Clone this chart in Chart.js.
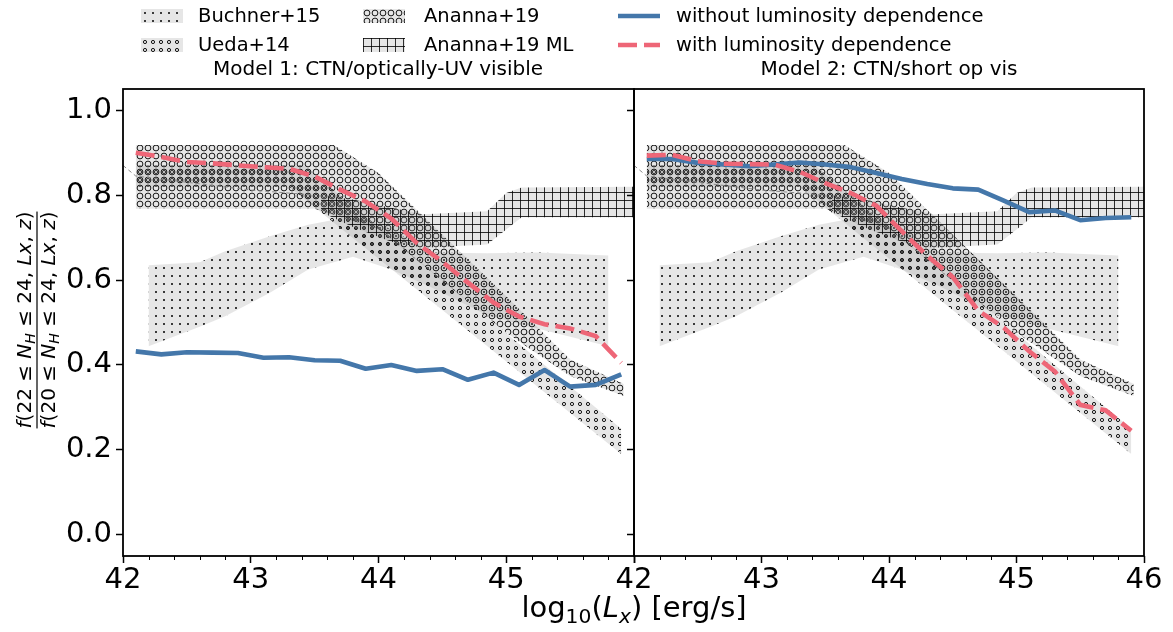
<!DOCTYPE html>
<html>
<head>
<meta charset="utf-8">
<script src="https://cdn.jsdelivr.net/npm/chart.js@4.4.1/dist/chart.umd.min.js"></script>
<style>
  html, body { margin: 0; padding: 0; background: #fff; }
  #wrap { position: relative; width: 1173px; height: 632px; overflow: hidden;
          font-family: "DejaVu Sans", sans-serif; color: #000; }
  canvas.plot { position: absolute; top: 0; }
  .lg { position: absolute; font-size: 19.5px; line-height: 24px; white-space: nowrap; }
  .sw { position: absolute; }
  .ttl { position: absolute; font-size: 20px; line-height: 24px; white-space: nowrap; transform: translateX(-50%); }
  #xlab { position: absolute; left: 634px; top: 590px; font-size: 29px; line-height: 34px;
          white-space: nowrap; transform: translateX(-50%); }
  #xlab sub { font-size: 70%; vertical-align: -0.28em; line-height: 0; }
</style>
</head>
<body>
<div id="wrap">
  <canvas id="left" class="plot" width="640" height="632" style="left:0"></canvas>
  <canvas id="right" class="plot" width="579" height="632" style="left:594px"></canvas>

  <canvas id="swBuchner" class="sw" width="42" height="14" style="left:141px;top:9px"></canvas>
  <div class="lg" style="left:198px;top:4px">Buchner+15</div>
  <canvas id="swUeda" class="sw" width="42" height="14" style="left:141px;top:38px"></canvas>
  <div class="lg" style="left:198px;top:33px">Ueda+14</div>
  <canvas id="swAnanna" class="sw" width="42" height="14" style="left:363px;top:9px"></canvas>
  <div class="lg" style="left:424px;top:4px">Ananna+19</div>
  <canvas id="swML" class="sw" width="42" height="14" style="left:363px;top:38px"></canvas>
  <div class="lg" style="left:424px;top:33px">Ananna+19 ML</div>
  <canvas id="swWithout" class="sw" width="42" height="14" style="left:618px;top:9px"></canvas>
  <div class="lg" style="left:676px;top:4px">without luminosity dependence</div>
  <canvas id="swWith" class="sw" width="42" height="14" style="left:618px;top:38px"></canvas>
  <div class="lg" style="left:676px;top:33px">with luminosity dependence</div>

  <div class="ttl" style="left:378px;top:56px">Model 1: CTN/optically-UV visible</div>
  <div class="ttl" style="left:889px;top:56px">Model 2: CTN/short op vis</div>
  <div id="xlab">log<sub>10</sub>(<i>L<sub>x</sub></i>) [erg/s]</div>
</div>

<script>
// axis ticks
const xTicks = [42, 43, 44, 45, 46];
const yTicks = [0.0, 0.2, 0.4, 0.6, 0.8, 1.0];

// luminosity bins of the model curves
const lumBins = [42.1, 42.3, 42.5, 42.7, 42.9, 43.1, 43.3, 43.5, 43.7, 43.9,
                 44.1, 44.3, 44.5, 44.7, 44.9, 45.1, 45.3, 45.5, 45.7, 45.9];

// Model 1
const m1Without = [0.432, 0.425, 0.430, 0.429, 0.428, 0.417, 0.418, 0.411, 0.410, 0.391,
                   0.400, 0.386, 0.390, 0.365, 0.382, 0.353, 0.388, 0.349, 0.353, 0.378];
const m1With    = [0.900, 0.890, 0.878, 0.875, 0.870, 0.866, 0.862, 0.844, 0.813, 0.785,
                   0.745, 0.687, 0.643, 0.594, 0.547, 0.514, 0.496, 0.486, 0.468, 0.405];
// Model 2
const m2Without = [0.885, 0.885, 0.876, 0.872, 0.868, 0.872, 0.877, 0.872, 0.866, 0.852,
                   0.838, 0.826, 0.816, 0.813, 0.787, 0.760, 0.764, 0.741, 0.746, 0.748];
const m2With    = [0.893, 0.895, 0.880, 0.874, 0.873, 0.872, 0.855, 0.828, 0.805, 0.775,
                   0.715, 0.657, 0.607, 0.528, 0.488, 0.432, 0.385, 0.306, 0.293, 0.245];

// literature bands (same in both panels)
const buchnerX  = [42.2, 42.6, 42.8, 43.15, 43.45, 43.8, 44.1, 44.4, 44.85, 45.25, 45.8];
const buchnerHi = [0.635, 0.642, 0.668, 0.703, 0.730, 0.750, 0.720, 0.665, 0.663, 0.665, 0.658];
const buchnerLo = [0.444, 0.490, 0.515, 0.570, 0.625, 0.655, 0.625, 0.585, 0.517, 0.485, 0.444];

const uedaX  = [42.1, 43.3, 43.42, 45.9];
const uedaHi = [0.870, 0.870, 0.870, 0.250];
const uedaLo = [0.820, 0.820, 0.791, 0.190];

const anannaX  = [42.1, 43.5, 43.65, 44.0, 45.0, 45.5, 45.92];
const anannaHi = [0.918, 0.918, 0.918, 0.852, 0.562, 0.413, 0.355];
const anannaLo = [0.768, 0.768, 0.754, 0.720, 0.476, 0.374, 0.327];

const mlX  = [43.55, 43.8, 44.1, 44.35, 44.85, 45.0, 45.12, 46.0];
const mlHi = [0.800, 0.790, 0.770, 0.755, 0.762, 0.805, 0.818, 0.820];
const mlLo = [0.760, 0.725, 0.690, 0.676, 0.684, 0.719, 0.748, 0.748];

// thin grey dashed reference line
const refX = [42.0, 42.1, 43.0, 43.5];
const refY = [0.870, 0.845, 0.812, 0.800];

const BLUE = '#4477AA';
const RED = '#EE6677';
const FONT = 'DejaVu Sans';
const RED_DASH = [19, 7];

const toXY = (xs, ys) => xs.map((x, i) => ({ x: x, y: ys[i] }));

// hatch tiles (grey face + black marks)
function makeTile(kind) {
    const s = 8;
    const c = document.createElement('canvas');
    c.width = s; c.height = s;
    const g = c.getContext('2d');
    g.fillStyle = 'rgba(150,150,150,0.24)';
    g.fillRect(0, 0, s, s);
    g.strokeStyle = '#000';
    g.fillStyle = '#000';
    g.lineWidth = 0.9;
    if (kind === 'dots') {
        g.beginPath(); g.arc(4, 4, 1.0, 0, 2 * Math.PI); g.fill();
    } else if (kind === 'small') {
        g.beginPath(); g.arc(4, 4, 1.6, 0, 2 * Math.PI); g.stroke();
    } else if (kind === 'large') {
        g.beginPath(); g.arc(4, 4, 2.9, 0, 2 * Math.PI); g.stroke();
    } else if (kind === 'grid') {
        g.fillStyle = 'rgba(0,0,0,0.8)';
        g.fillRect(0, 0, s, 1);
        g.fillRect(0, 0, 1, s);
    }
    return c;
}
const scratch = document.createElement('canvas').getContext('2d');
const pat = {
    dots: scratch.createPattern(makeTile('dots'), 'repeat'),
    small: scratch.createPattern(makeTile('small'), 'repeat'),
    large: scratch.createPattern(makeTile('large'), 'repeat'),
    grid: scratch.createPattern(makeTile('grid'), 'repeat'),
};

function bandPair(xs, hi, lo, pattern, order) {
    const base = { borderColor: 'rgba(0,0,0,0)', borderWidth: 0, pointRadius: 0, tension: 0 };
    return [
        Object.assign({ data: toXY(xs, hi), fill: '+1', backgroundColor: pattern, order: order }, base),
        Object.assign({ data: toXY(xs, lo), fill: false, order: order + 0.5 }, base),
    ];
}

function buildDatasets(without, withL) {
    return [
        { data: toXY(lumBins, withL), borderColor: RED, borderWidth: 4.6, borderDash: RED_DASH,
          pointRadius: 0, fill: false, order: 0 },
        { data: toXY(lumBins, without), borderColor: BLUE, borderWidth: 4.6,
          pointRadius: 0, fill: false, order: 1, borderJoinStyle: 'round' },
        { data: toXY(refX, refY), borderColor: '#888', borderWidth: 1, borderDash: [4, 3],
          pointRadius: 0, fill: false, order: 2 },
        ...bandPair(mlX, mlHi, mlLo, pat.grid, 3),
        ...bandPair(anannaX, anannaHi, anannaLo, pat.large, 5),
        ...bandPair(uedaX, uedaHi, uedaLo, pat.small, 7),
        ...bandPair(buchnerX, buchnerHi, buchnerLo, pat.dots, 9),
    ];
}

// italic / subscript text runs for the y label
function runsWidth(ctx, runs, fs) {
    let w = 0;
    runs.forEach(r => {
        const size = r.sub ? fs * 0.7 : fs;
        ctx.font = (r.it ? 'italic ' : '') + size + 'px "' + FONT + '"';
        w += ctx.measureText(r.t).width;
    });
    return w;
}
function drawRuns(ctx, runs, x, y, fs) {
    runs.forEach(r => {
        const size = r.sub ? fs * 0.7 : fs;
        ctx.font = (r.it ? 'italic ' : '') + size + 'px "' + FONT + '"';
        ctx.fillText(r.t, x, y + (r.sub ? fs * 0.22 : 0));
        x += ctx.measureText(r.t).width;
    });
}
function fracRuns(lo) {
    return [
        { t: 'f', it: true }, { t: '(' + lo + ' \u2264 ' }, { t: 'N', it: true }, { t: 'H', it: true, sub: true },
        { t: ' \u2264 24, ' }, { t: 'Lx', it: true }, { t: ', ' }, { t: 'z', it: true }, { t: ')' },
    ];
}

const panelDecor = {
    id: 'panelDecor',
    afterDraw(chart, args, opts) {
        const ctx = chart.ctx;
        const a = chart.chartArea;
        const xs = chart.scales.x;
        ctx.save();
        // minor x ticks every 0.2
        ctx.strokeStyle = '#000';
        ctx.lineWidth = 1;
        for (let i = 1; i < 20; i++) {
            if (i % 5 === 0) continue;
            const px = Math.round(xs.getPixelForValue(42 + i * 0.2)) + 0.5;
            ctx.beginPath(); ctx.moveTo(px, a.bottom); ctx.lineTo(px, a.bottom + 4); ctx.stroke();
        }
        // frame
        ctx.lineWidth = 1.8;
        ctx.strokeRect(a.left, a.top, a.right - a.left, a.bottom - a.top);

        if (opts.yLabel) {
            const fs = 20;
            ctx.translate(37, 320);
            ctx.rotate(-Math.PI / 2);
            ctx.fillStyle = '#000';
            ctx.textBaseline = 'alphabetic';
            const num = fracRuns('22'), den = fracRuns('20');
            const wn = runsWidth(ctx, num, fs), wd = runsWidth(ctx, den, fs);
            const w = Math.max(wn, wd);
            drawRuns(ctx, num, -wn / 2, -6, fs);
            drawRuns(ctx, den, -wd / 2, 18, fs);
            ctx.fillRect(-w / 2, -0.6, w, 1.2);
        }
        ctx.restore();
    }
};

function makePanel(id, without, withL, isLeft) {
    const canvas = document.getElementById(id);
    return new Chart(canvas.getContext('2d'), {
        type: 'line',
        data: { datasets: buildDatasets(without, withL) },
        options: {
            responsive: false,
            animation: false,
            devicePixelRatio: 1,
            events: [],
            layout: { padding: { top: 89, bottom: 0, left: 0, right: isLeft ? 6 : 29 } },
            plugins: {
                legend: { display: false },
                tooltip: { enabled: false },
                panelDecor: { yLabel: isLeft },
            },
            scales: {
                x: {
                    type: 'linear', min: 42, max: 46,
                    afterBuildTicks: s => { s.ticks = xTicks.map(v => ({ value: v })); },
                    afterFit: s => { s.height = 632 - 556; },
                    border: { display: false },
                    grid: { display: true, drawOnChartArea: false, drawTicks: true,
                            tickLength: 7, tickWidth: 1.5, tickColor: '#000' },
                    ticks: {
                        font: { family: FONT, size: 29 }, color: '#000', padding: 0,
                        maxRotation: 0, autoSkip: false,
                        callback: v => (isLeft && v === 46) ? '' : String(v),
                    },
                },
                y: {
                    type: 'linear', min: -0.05, max: 1.05,
                    afterBuildTicks: s => { s.ticks = yTicks.map(v => ({ value: v })); },
                    afterFit: s => { s.width = isLeft ? 123 : 40; },
                    border: { display: false },
                    grid: { display: true, drawOnChartArea: false, drawTicks: true,
                            tickLength: 7, tickWidth: 1.5, tickColor: '#000' },
                    ticks: {
                        font: { family: FONT, size: 29 }, color: '#000', padding: 4,
                        callback: v => isLeft ? v.toFixed(1) : '',
                    },
                },
            },
        },
        plugins: [panelDecor],
    });
}

// legend swatches
function fillSwatch(id, pattern) {
    const c = document.getElementById(id);
    const g = c.getContext('2d');
    g.fillStyle = pattern;
    g.fillRect(0, 0, c.width, c.height);
}
function lineSwatch(id, color, dash) {
    const c = document.getElementById(id);
    const g = c.getContext('2d');
    g.strokeStyle = color;
    g.lineWidth = 4.6;
    g.setLineDash(dash);
    g.beginPath(); g.moveTo(0, 7); g.lineTo(42, 7); g.stroke();
}

fillSwatch('swBuchner', pat.dots);
fillSwatch('swUeda', pat.small);
fillSwatch('swAnanna', pat.large);
fillSwatch('swML', pat.grid);
lineSwatch('swWithout', BLUE, []);
lineSwatch('swWith', RED, RED_DASH);

makePanel('left', m1Without, m1With, true);
makePanel('right', m2Without, m2With, false);
</script>
</body>
</html>
